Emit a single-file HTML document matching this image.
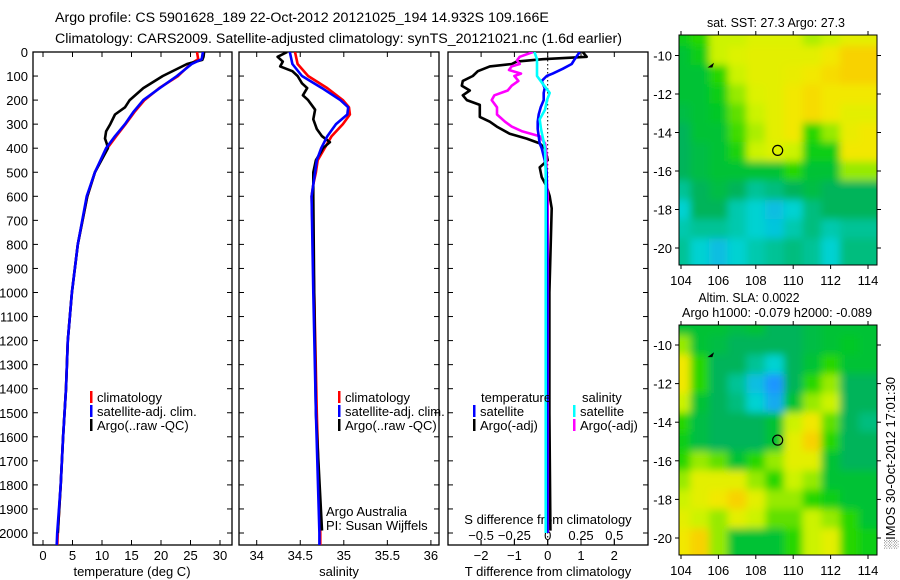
<!DOCTYPE html>
<html><head><meta charset="utf-8">
<style>
html,body{margin:0;padding:0;background:#fff;}
svg{display:block;font-family:"Liberation Sans",sans-serif;}
text{fill:#000;}
</style></head>
<body>
<svg id="fig" width="900" height="580" viewBox="0 0 900 580" xmlns="http://www.w3.org/2000/svg">
<defs>
<clipPath id="c1"><rect x="33" y="52" width="199" height="493"/></clipPath>
<clipPath id="c2"><rect x="239" y="52" width="200" height="493"/></clipPath>
<clipPath id="c3"><rect x="448" y="52" width="200" height="493"/></clipPath>
<clipPath id="m1"><rect x="679" y="35" width="198" height="230"/></clipPath>
<clipPath id="m2"><rect x="679" y="325" width="198" height="230"/></clipPath>
<filter id="bl" x="-5%" y="-5%" width="110%" height="110%"><feGaussianBlur stdDeviation="4"/></filter>
</defs>
<text x="55" y="22" font-size="14.2">Argo profile: CS 5901628_189 22-Oct-2012 20121025_194 14.932S 109.166E</text>
<text x="55" y="43" font-size="14.2">Climatology: CARS2009. Satellite-adjusted climatology: synTS_20121021.nc (1.6d earlier)</text>
<g id="g"></g>
</svg>
<script>
// ---- profile data ----
const tDepthClim=[0,30,50,100,150,200,250,300,350,400,500,600,800,1000,1200,1400,1600,1800,2000,2060];
const tempClim=[26.1,26.3,25.0,22.9,19.7,17.2,15.5,14.0,12.4,10.9,8.8,7.5,5.9,4.9,4.2,3.9,3.4,3.0,2.5,2.4];
const tempSat=[27.1,26.9,25.2,22.7,19.8,17.0,15.3,13.9,12.2,10.7,8.8,7.4,5.9,4.9,4.2,3.9,3.4,3.0,2.4,2.3];
const tDepthArgo=[0,20,33,50,100,150,200,230,260,300,330,360,380,400,500,600,800,1000,1200,1400,1600,1800,2000];
const tempArgo=[27.3,27.2,27.0,24.4,20.3,17.0,14.7,13.9,12.2,11.4,10.7,10.5,10.8,11.0,8.8,7.5,5.9,4.9,4.2,3.9,3.4,3.0,2.5];
const sDepth=[0,50,100,150,200,230,260,300,350,400,450,500,550,600,1000,1500,2000,2060];
const salClim=[34.44,34.47,34.59,34.81,34.99,35.06,35.07,34.99,34.86,34.78,34.70,34.68,34.65,34.63,34.66,34.69,34.73,34.73];
const salSat=[34.38,34.41,34.52,34.75,34.96,35.05,35.04,34.91,34.81,34.74,34.69,34.67,34.65,34.63,34.65,34.68,34.72,34.72];
const sDepthArgo=[0,20,40,60,80,100,130,150,180,200,240,280,320,350,375,400,420,450,500,600,1000,1500,1990];
const salArgo=[34.35,34.24,34.30,34.27,34.41,34.47,34.52,34.58,34.53,34.59,34.67,34.65,34.69,34.75,34.84,34.76,34.73,34.68,34.65,34.65,34.66,34.68,34.75];
// ---- difference data ----
const dDepthTA=[0,20,30,40,50,60,80,100,120,140,160,180,200,220,250,270,290,310,340,360,380,400,430,450,480,520,560,600,650,1000,1500,1990];
const dTempArgo=[1.05,1.17,-0.15,-0.93,-1.08,-1.74,-2.1,-2.25,-2.55,-2.58,-2.34,-2.55,-2.43,-2.04,-2.04,-2.04,-1.74,-1.53,-1.14,-0.63,-0.24,-0.09,-0.03,0,-0.24,-0.18,-0.03,0.06,0.12,0.05,0.05,0.08];
const dDepthTS=[0,30,50,70,90,100,120,150,170,200,230,260,290,320,350,380,400,450,500,1000,2000];
const dTempSat=[0.96,0.81,0.72,0.45,0.15,-0.03,-0.18,-0.09,-0.12,-0.12,-0.21,-0.27,-0.3,-0.3,-0.27,-0.24,-0.18,-0.09,-0.03,-0.01,-0.01];
const dDepthSA=[0,20,35,50,60,75,90,100,120,140,160,180,200,230,260,290,310,330,350,380,420,500,600,1000,2000];
const dSalArgo=[-0.11,-0.21,-0.23,-0.21,-0.27,-0.29,-0.2,-0.25,-0.22,-0.27,-0.3,-0.4,-0.42,-0.38,-0.38,-0.32,-0.27,-0.19,-0.06,-0.02,-0.01,-0.01,0.0,0.0,0.0];
const dDepthSS=[0,30,60,100,130,170,200,240,280,320,400,500,1000,2000];
const dSalSat=[-0.1,-0.08,-0.08,-0.08,-0.04,0.015,-0.005,-0.02,-0.06,-0.05,-0.02,-0.015,-0.015,-0.015];
// ---- axis ticks ----
const depthTicks=[0,100,200,300,400,500,600,700,800,900,1000,1100,1200,1300,1400,1500,1600,1700,1800,1900,2000];
const tempTicks=[0,5,10,15,20,25,30];
const salTicks=[34,34.5,35,35.5,36];
const salTickLabels=["34","34.5","35","35.5","36"];
const dTTicks=[-2,-1,0,1,2];
const dSTicks=[-0.5,-0.25,0,0.25,0.5];
const dSTickLabels=["\u22120.5","\u22120.25","0","0.25","0.5"];
// ---- maps (1-degree cells, rows lat -9..-20 top to bottom, cols lon 104..114) ----
const mapLons=[104,105,106,107,108,109,110,111,112,113,114];
const mapLats=[-9,-10,-11,-12,-13,-14,-15,-16,-17,-18,-19,-20];
const sstGrid=[
[0.55,0.6,0.75,0.75,0.78,0.78,0.78,0.72,0.75,0.8,0.8],
[0.5,0.55,0.75,0.78,0.8,0.8,0.8,0.8,0.85,0.9,0.9],
[0.5,0.5,0.6,0.75,0.8,0.8,0.82,0.85,0.88,0.9,0.9],
[0.5,0.5,0.55,0.7,0.78,0.8,0.85,0.88,0.85,0.85,0.85],
[0.48,0.5,0.52,0.65,0.75,0.8,0.85,0.88,0.85,0.8,0.8],
[0.45,0.5,0.5,0.62,0.72,0.8,0.85,0.6,0.7,0.82,0.85],
[0.45,0.48,0.5,0.58,0.75,0.78,0.75,0.55,0.55,0.85,0.85],
[0.45,0.48,0.5,0.5,0.5,0.5,0.6,0.5,0.5,0.7,0.7],
[0.4,0.45,0.48,0.45,0.4,0.42,0.45,0.48,0.45,0.45,0.45],
[0.35,0.45,0.45,0.38,0.35,0.3,0.35,0.42,0.45,0.45,0.45],
[0.38,0.4,0.4,0.38,0.35,0.32,0.38,0.42,0.38,0.4,0.4],
[0.4,0.35,0.3,0.35,0.38,0.4,0.42,0.4,0.35,0.42,0.42]];
const slaGrid=[
[0.5,0.5,0.5,0.48,0.5,0.45,0.45,0.48,0.5,0.5,0.5],
[0.7,0.5,0.48,0.45,0.45,0.45,0.45,0.48,0.5,0.52,0.5],
[0.85,0.6,0.45,0.45,0.4,0.35,0.45,0.5,0.6,0.5,0.5],
[0.85,0.6,0.45,0.4,0.3,0.2,0.45,0.6,0.7,0.45,0.45],
[0.75,0.5,0.45,0.42,0.35,0.25,0.5,0.7,0.75,0.45,0.45],
[0.6,0.48,0.45,0.45,0.45,0.5,0.75,0.85,0.65,0.45,0.42],
[0.55,0.48,0.45,0.45,0.45,0.5,0.8,0.9,0.6,0.45,0.45],
[0.6,0.7,0.65,0.5,0.6,0.7,0.8,0.8,0.5,0.45,0.45],
[0.7,0.8,0.8,0.8,0.7,0.6,0.75,0.7,0.5,0.5,0.5],
[0.75,0.8,0.85,0.9,0.8,0.7,0.7,0.6,0.55,0.5,0.5],
[0.8,0.75,0.7,0.8,0.75,0.65,0.65,0.75,0.7,0.6,0.5],
[0.85,0.9,0.7,0.5,0.5,0.5,0.6,0.75,0.8,0.6,0.55]];
const lonTicks=[104,106,108,110,112,114];
const latTicks=[-10,-12,-14,-16,-18,-20];
const argoLon=109.17, argoLat=-14.93;

const NS="http://www.w3.org/2000/svg";
const G=document.getElementById('g');
function mk(tag,attrs,parent){const e=document.createElementNS(NS,tag);for(const k in attrs)e.setAttribute(k,attrs[k]);(parent||G).appendChild(e);return e;}

const TOP=52,BOT=545;
const yD=d=>TOP+d*0.2405;
const xT=t=>43+t*5.9;
const xS=s=>256.7+(s-34)*87.1;
const xDT=v=>547.7+v*33.3;
const xDS=v=>547.7+v*133.3;

const panels=[{x:33,w:199,clip:'c1',name:'temperature-panel'},{x:239,w:200,clip:'c2',name:'salinity-panel'},{x:448,w:200,clip:'c3',name:'difference-panel'}];
panels.forEach(p=>{
  const r=mk('rect',{x:p.x,y:TOP,width:p.w,height:BOT-TOP,fill:'none',stroke:'#000','stroke-width':1.3});
  
  
  depthTicks.forEach(d=>{
    mk('line',{x1:p.x,x2:p.x+5,y1:yD(d),y2:yD(d),stroke:'#000'});
    mk('line',{x1:p.x+p.w-5,x2:p.x+p.w,y1:yD(d),y2:yD(d),stroke:'#000'});
  });
});
depthTicks.forEach(d=>{
  const t=mk('text',{x:28,y:yD(d)+5,'font-size':13,'text-anchor':'end'});t.textContent=d;
  
  
});
function xticks(vals,fx,labels,ly,name,top){
  vals.forEach((v,i)=>{
    const x=fx(v);
    mk('line',{x1:x,x2:x,y1:BOT-5,y2:BOT,stroke:'#000'});
    if(top)mk('line',{x1:x,x2:x,y1:TOP,y2:TOP+5,stroke:'#000'});
    const t=mk('text',{x:x,y:ly,'font-size':13,'text-anchor':'middle'});t.textContent=labels?labels[i]:v;
    
    
  });
}
xticks(tempTicks,xT,null,560,'temperature-tick-label',true);
xticks(salTicks,xS,salTickLabels,560,'salinity-tick-label',true);
xticks(dTTicks,xDT,["\u22122","\u22121","0","1","2"],560,'t-diff-tick-label',true);
dSTicks.forEach((v,i)=>{
  const x=xDS(v);
  mk('line',{x1:x,x2:x,y1:BOT-5,y2:BOT,stroke:'#000'});
  const t=mk('text',{x:x,y:540,'font-size':13,'text-anchor':'middle'});t.textContent=dSTickLabels[i];
  
  
});
function label(x,y,s,name,anchor,size,len){const t=mk('text',{x:x,y:y,'font-size':size||13,'text-anchor':anchor||'middle'});if(len){t.setAttribute('textLength',len);t.setAttribute('lengthAdjust','spacingAndGlyphs');}t.textContent=s;return t;}
label(132,576,'temperature (deg C)','temperature-axis-title');
label(339,576,'salinity','salinity-axis-title');
label(548,576,'T difference from climatology','t-diff-axis-title');
label(548,524,'S difference from climatology','s-diff-axis-title');

const z=mk('line',{x1:547.7,x2:547.7,y1:TOP,y2:BOT,stroke:'#000','stroke-dasharray':'1.5,2.5'});



function line(depths,vals,fx,color,clip,name){
  const pts=depths.map((d,i)=>fx(vals[i]).toFixed(1)+','+yD(d).toFixed(1)).join(' ');
  const e=mk('polyline',{points:pts,fill:'none',stroke:color,'stroke-width':2.6,'clip-path':'url(#'+clip+')','stroke-linejoin':'round'});
  
  
}
line(tDepthClim,tempClim,xT,'#f00','c1','temp-climatology-line');
line(tDepthArgo,tempArgo,xT,'#000','c1','temp-argo-line');
line(tDepthClim,tempSat,xT,'#00f','c1','temp-satellite-line');
line(sDepth,salClim,xS,'#f00','c2','sal-climatology-line');
line(sDepthArgo,salArgo,xS,'#000','c2','sal-argo-line');
line(sDepth,salSat,xS,'#00f','c2','sal-satellite-line');
line(dDepthTA,dTempArgo,xDT,'#000','c3','tdiff-argo-line');
line(dDepthSA,dSalArgo,xDS,'#f0f','c3','sdiff-argo-line');
line(dDepthTS,dTempSat,xDT,'#00f','c3','tdiff-satellite-line');
line(dDepthSS,dSalSat,xDS,'#0ff','c3','sdiff-satellite-line');

function leg(x,y,color,s,name){
  const b=mk('rect',{x:x,y:y-11,width:2.5,height:12,fill:color});
  
  
  label(x+7,y,s,name,'start',13);
}
leg(90,402,'#f00','climatology','legend-t-climatology');
leg(90,416,'#00f','satellite-adj. clim.','legend-t-satellite');
leg(90,430,'#000','Argo(..raw -QC)','legend-t-argo');
leg(338,402,'#f00','climatology','legend-s-climatology');
leg(338,416,'#00f','satellite-adj. clim.','legend-s-satellite');
leg(338,430,'#000','Argo(..raw -QC)','legend-s-argo');
label(481,402,'temperature','legend-temperature-heading','start');
label(582,402,'salinity','legend-salinity-heading','start');
leg(473,416,'#00f','satellite','legend-tdiff-satellite');
leg(473,430,'#000','Argo(-adj)','legend-tdiff-argo');
leg(573,416,'#0ff','satellite','legend-sdiff-satellite');
leg(573,430,'#f0f','Argo(-adj)','legend-sdiff-argo');
label(326,516,'Argo Australia','argo-australia-note','start');
label(326,530,'PI: Susan Wijffels','pi-note','start');

// ---- maps ----
const stops=[[0,[0,80,255]],[0.2,[30,150,255]],[0.35,[0,210,210]],[0.45,[0,180,90]],[0.52,[0,200,40]],[0.6,[40,215,0]],[0.68,[130,230,0]],[0.76,[215,245,0]],[0.86,[245,230,0]],[0.93,[250,195,0]],[1,[250,150,0]]];
function cmap(v){for(let i=1;i<stops.length;i++){if(v<=stops[i][0]){const a=stops[i-1],b=stops[i],f=(v-a[0])/(b[0]-a[0]);return 'rgb('+a[1].map((c,k)=>Math.round(c+(b[1][k]-c)*f)).join(',')+')';}}return 'rgb(250,150,0)';}
function drawMap(grid,top,latA,latB,clip,name){
  const xL=lon=>681+(lon-104)*18.7;
  const yL=lat=>latA.y+(lat-latA.lat)*(latB.y-latA.y)/(latB.lat-latA.lat);
  const g=mk('g',{'clip-path':'url(#'+clip+')'});
  
  
  const inner=mk('g',{filter:'url(#bl)'},g);
  mapLats.forEach((lat,r)=>mapLons.forEach((lon,c)=>{
    const x0=xL(lon-0.5),y0=yL(lat+0.5),x1=xL(lon+0.5),y1=yL(lat-0.5);
    const ex0=c===0?20:0, ex1=c===mapLons.length-1?20:0, ey0=r===0?20:0, ey1=r===mapLats.length-1?20:0;
    mk('rect',{x:x0-ex0,y:y0-ey0,width:x1-x0+ex0+ex1+0.5,height:y1-y0+ey0+ey1+0.5,fill:cmap(grid[r][c])},inner);
  }));
  const c=mk('circle',{cx:xL(argoLon),cy:yL(argoLat),r:5,fill:'none',stroke:'#000','stroke-width':1.2});
  
  
  const a=mk('path',{d:`M${xL(105.5)} ${yL(-10.6)} l4 -3 l-1 3 z`,fill:'#000',stroke:'#000'});
  
  
  const fr=mk('rect',{x:679,y:top,width:198,height:230,fill:'none',stroke:'#000','stroke-width':1});
  
  
  lonTicks.forEach(lon=>{const x=xL(lon);
    mk('line',{x1:x,x2:x,y1:top-4,y2:top,stroke:'#000'});
    mk('line',{x1:x,x2:x,y1:top+230,y2:top+234,stroke:'#000'});
    label(x,top+250,String(lon),'map-lon-tick-label','middle',13);
  });
  latTicks.forEach(lat=>{const y=yL(lat);
    mk('line',{x1:675,x2:679,y1:y,y2:y,stroke:'#000'});
    mk('line',{x1:877,x2:881,y1:y,y2:y,stroke:'#000'});
    label(672,y+5,String(lat),'map-lat-tick-label','end',13);
  });
}
drawMap(sstGrid,35,{lat:-10,y:55.5},{lat:-20,y:248},'m1','sst-map');
drawMap(slaGrid,325,{lat:-10,y:345},{lat:-20,y:538},'m2','sla-map');
label(776,27,'sat. SST: 27.3 Argo: 27.3','sst-map-title','middle',13,138);
label(749,302,'Altim. SLA: 0.0022','sla-map-title-1','middle',13,101);
label(777,317,'Argo h1000: -0.079 h2000: -0.089','sla-map-title-2','middle',13,190);
const v=label(0,0,'\u2591IMOS 30-Oct-2012 17:01:30','imos-timestamp','middle',13,172);
v.setAttribute('transform','translate(895,463) rotate(-90)');
</script>
</body></html>
